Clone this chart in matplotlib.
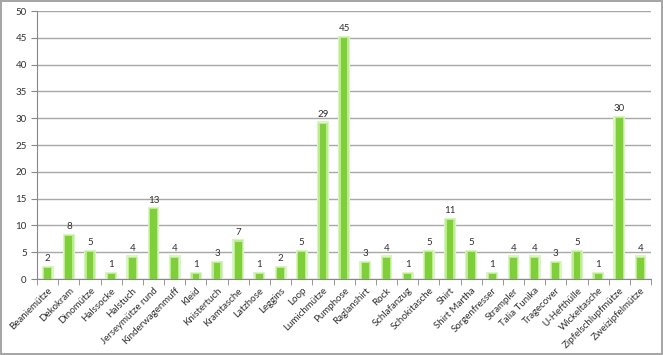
import matplotlib.pyplot as plt
import numpy as np

plt.rcParams['font.family'] = ['Lato', 'DejaVu Sans']

# ------------------------------ Data ------------------------------ #
names = ['Beaniemütze', 'Dekokram', 'Dinomütze', 'Halssocke', 'Halstuch',
         'Jerseymütze rund', 'Kinderwagenmuff', 'Kleid', 'Knistertuch',
         'Kramtasche', 'Latzhose', 'Leggins', 'Loop', 'Lumichmütze',
         'Pumphose', 'Raglanshirt', 'Rock', 'Schlafanzug', 'Schokitasche',
         'Shirt', 'Shirt Martha', 'Sorgenfresser', 'Strampler', 'Talia Tunika',
         'Tragecover', 'U-Hefthülle', 'Wickeltasche', 'Zipfelschlupfmütze',
         'Zweizipfelmütze']
counts = [2, 8, 5, 1, 4, 13, 4, 1, 3, 7, 1, 2, 5, 29, 45, 3, 4, 1, 5, 11,
          5, 1, 4, 4, 3, 5, 1, 30, 4]

# ------------------------------ Plot ------------------------------ #
fig = plt.figure(figsize=(6.63, 3.55), dpi=100)
fig.patch.set_edgecolor('#a6a6a6')
fig.patch.set_linewidth(1.5)
ax = fig.add_axes([0.056, 0.214, 0.926, 0.755])

x = np.arange(len(names))
# soft glow behind each bar
ax.bar(x, [c + 0.4 for c in counts], width=0.56, color='#d9f6c0', zorder=2)
ax.bar(x, [c + 0.2 for c in counts], width=0.44, color='#bdeb92', zorder=2)
ax.bar(x, counts, width=0.32, color='#7fcf3a', zorder=3)

for xi, c in zip(x, counts):
    ax.text(xi, c + 0.9, str(c), ha='center', va='bottom', fontsize=7,
            color='#303030')

ax.set_xlim(-0.5, len(names) - 0.5)
ax.set_ylim(0, 50)
ax.set_yticks(range(0, 51, 5))
ax.yaxis.grid(True, color='#a8a8a8', linewidth=1)
ax.set_axisbelow(True)

ax.set_xticks(x)
ax.set_xticklabels(names, rotation=45, ha='right', rotation_mode='anchor',
                   fontsize=7, color='#303030')
ax.set_xticks(np.arange(-0.5, len(names), 1), minor=True)
ax.tick_params(axis='x', which='major', length=0, pad=5)
ax.tick_params(axis='x', which='minor', length=4, color='#888888')
ax.tick_params(axis='y', length=4, color='#888888', labelsize=7,
               labelcolor='#303030')

for s in ['top', 'right']:
    ax.spines[s].set_visible(False)
ax.spines['left'].set_color('#888888')
ax.spines['bottom'].set_color('#888888')

fig.savefig('out.png', dpi=100, edgecolor=fig.get_edgecolor())
